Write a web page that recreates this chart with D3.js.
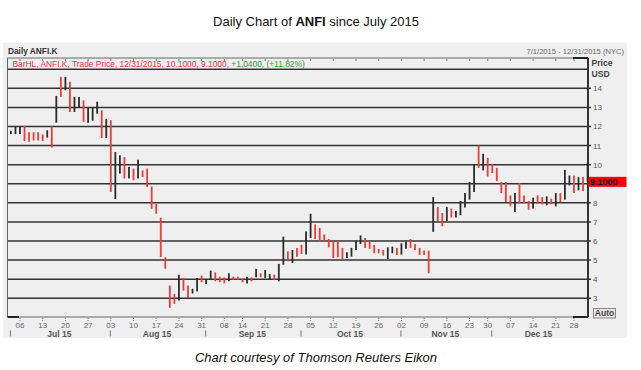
<!DOCTYPE html>
<html>
<head>
<meta charset="utf-8">
<script src="https://cdn.jsdelivr.net/npm/d3@7"></script>
<style>
body { margin: 0; background: #fff; }
svg { display: block; font-family: "Liberation Sans", Arial, sans-serif; }
</style>
</head>
<body>
<div id="chart"></div>
<script>
// Daily high / low bars for ANFI.K, one per trading day, Jul 1 - Dec 31 2015
const highs = [
  11.77, 12.0, 12.0, 12.03, 11.7, 11.7, 11.7, 11.58, 11.8, 12.0,
  13.6, 14.6, 14.6, 14.34, 13.55, 13.55, 13.37, 12.99, 13.0, 13.3,
  12.85, 12.4, 12.33, 10.66, 10.49, 10.4, 9.88, 9.8, 10.26, 9.7,
  9.8, 8.86, 7.95, 7.22, 5.16, 3.67, 3.23, 4.23, 4.07, 3.67,
  3.5, 4.06, 4.19, 4.01, 4.45, 4.36, 4.13, 4.1, 4.31, 4.13,
  4.13, 4.01, 4.13, 4.1, 4.54, 4.31, 4.48, 4.27, 4.24, 4.8,
  6.23, 5.46, 5.53, 5.64, 5.81, 6.5, 7.43, 6.87, 6.69, 6.34,
  6.11, 5.99, 5.99, 5.64, 5.41, 5.64, 6.02, 6.29, 6.16, 5.97,
  5.8, 5.59, 5.53, 5.67, 5.71, 5.64, 5.88, 5.97, 6.11, 5.85,
  5.64, 5.5, 5.5, 8.3, 7.78, 7.47, 7.78, 7.7, 7.57, 8.1,
  8.51, 9.09, 10.04, 11.0, 10.57, 10.36, 10.04, 9.83, 9.09, 9.09,
  8.39, 8.51, 9.03, 8.39, 8.1, 8.27, 8.39, 8.3, 8.34, 8.22,
  8.51, 8.51, 9.73, 9.43, 9.43, 9.35, 9.35, 10.1
];
const lows = [
  11.6, 11.6, 11.6, 11.24, 11.2, 11.27, 11.27, 11.24, 11.42, 10.9,
  12.2, 13.55, 13.9, 12.76, 12.76, 13.0, 12.24, 12.19, 12.3, 12.67,
  11.4, 11.4, 8.57, 8.2, 9.53, 9.27, 9.27, 9.18, 9.27, 9.35,
  8.83, 7.69, 7.43, 5.16, 4.55, 2.5, 2.71, 2.88, 3.4, 3.02,
  3.25, 3.36, 3.84, 3.75, 4.0, 3.89, 3.84, 3.78, 3.89, 3.96,
  3.96, 3.84, 3.78, 3.89, 4.1, 4.1, 4.06, 4.01, 3.96, 3.89,
  4.76, 4.94, 4.85, 5.18, 5.32, 5.29, 6.16, 6.11, 5.97, 5.99,
  5.67, 5.11, 5.15, 5.03, 5.11, 5.18, 5.53, 5.85, 5.64, 5.59,
  5.36, 5.36, 5.24, 5.06, 5.36, 5.27, 5.29, 5.59, 5.64, 5.53,
  5.27, 5.27, 4.31, 6.48, 7.05, 6.77, 7.05, 7.23, 7.23, 7.35,
  7.75, 8.17, 8.57, 9.83, 9.7, 9.38, 9.56, 9.14, 8.51, 8.04,
  7.82, 7.52, 7.99, 7.99, 7.64, 7.7, 7.96, 7.92, 7.87, 7.92,
  7.82, 8.04, 8.17, 8.91, 8.51, 8.65, 8.62, 9.1
];
// u = up day (dark bar), d = down day (red bar)
const dirs = [
  "uuudddddud", "ududuuduuu", "duduududud", "dddddddudd",
  "uuduudddud", "ddududuudu", "ududduuddd", "dddduuuudd",
  "ddduuduudd", "dddudduduu", "uuududdddd", "duddduddud",
  "uduududu"
].join("").split("");

const holidays = ["2015-07-03", "2015-09-07", "2015-11-26", "2015-12-25"];
// the 9 label sits behind the last-price box
const priceTicks = [3, 4, 5, 6, 7, 8, 10, 11, 12, 13, 14];
const gridPrices = [3, 4, 5, 6, 7, 8, 9, 10, 11, 12, 13, 14, 15];
const monthLabels = ["Jul 15", "Aug 15", "Sep 15", "Oct 15", "Nov 15", "Dec 15"];
const lastPrice = 9.1;

const width = 641, height = 370;
const plotLeft = 7.5, plotRight = 588, plotTop = 58, plotBottom = 317;

const fmt = d3.timeFormat("%Y-%m-%d");
const days = d3.timeDays(new Date(2015, 6, 1), new Date(2016, 0, 1))
  .filter(d => d.getDay() !== 0 && d.getDay() !== 6 && !holidays.includes(fmt(d)));

const bars = days.map((d, i) => ({ date: d, hi: highs[i], lo: lows[i], up: dirs[i] === "u" }));

const x = d3.scalePoint().domain(d3.range(days.length)).range([10.9, 587.6]);
const y = d3.scaleLinear().domain([3, 14]).range([298.3, 88.3]);

const svg = d3.select("#chart").append("svg")
  .attr("width", width).attr("height", height);

// title
const title = svg.append("text")
  .attr("x", 316).attr("y", 26)
  .attr("text-anchor", "middle")
  .attr("font-size", 13).attr("fill", "#111");
title.append("tspan").text("Daily Chart of ");
title.append("tspan").attr("font-weight", "bold").text("ANFI");
title.append("tspan").text(" since July 2015");

// panel
svg.append("rect")
  .attr("x", 3).attr("y", 42.5).attr("width", 624).attr("height", 295.5)
  .attr("fill", "#efefef");

svg.append("text")
  .attr("x", 8).attr("y", 54)
  .attr("font-size", 8.3).attr("font-weight", "bold").attr("fill", "#333")
  .text("Daily ANFI.K");

svg.append("text")
  .attr("x", 624).attr("y", 53.5)
  .attr("text-anchor", "end")
  .attr("font-size", 7.6).attr("fill", "#666")
  .text("7/1/2015 - 12/31/2015 (NYC)");

// grid lines
svg.selectAll(".grid")
  .data(gridPrices)
  .enter()
  .append("line")
    .attr("class", "grid")
    .attr("x1", plotLeft)
    .attr("x2", d => d === 15 ? plotRight : plotRight + 3)
    .attr("y1", d => y(d))
    .attr("y2", d => y(d))
    .attr("stroke", "#333")
    .attr("stroke-width", 1.5);

// frame
function frameLine(x1, x2, y1, y2, color, w) {
  svg.append("line")
    .attr("x1", x1).attr("x2", x2).attr("y1", y1).attr("y2", y2)
    .attr("stroke", color).attr("stroke-width", w);
}
frameLine(plotLeft, plotLeft, plotTop, plotBottom, "#666", 1);
frameLine(plotLeft, plotRight, plotTop, plotTop, "#666", 1);
frameLine(plotLeft, plotRight, plotBottom, plotBottom, "#666", 1);
frameLine(plotRight, plotRight, plotTop, plotBottom, "#333", 2);
frameLine(573, plotRight, plotTop, plotTop, "#222", 2);
frameLine(573, plotRight, plotBottom, plotBottom, "#222", 2);
frameLine(plotLeft, 19, plotBottom, plotBottom, "#222", 2);

// legend line
const legend = svg.append("text")
  .attr("x", 12.5).attr("y", 66.5)
  .attr("font-size", 8.4);
legend.append("tspan").attr("fill", "#e8343c")
  .text("BarHL, ANFI.K, Trade Price, 12/31/2015, 10.1000, 9.1000, ");
legend.append("tspan").attr("fill", "#2f9a35")
  .text("+1.0400, (+11.82%)");

// price axis
svg.append("text").attr("x", 591.5).attr("y", 65.5)
  .attr("font-size", 8.6).attr("font-weight", "bold").attr("fill", "#444").text("Price");
svg.append("text").attr("x", 591.5).attr("y", 76.5)
  .attr("font-size", 8.6).attr("font-weight", "bold").attr("fill", "#444").text("USD");

svg.selectAll(".ptick")
  .data(priceTicks)
  .enter()
  .append("text")
    .attr("class", "ptick")
    .attr("x", 593)
    .attr("y", d => y(d) + 3)
    .attr("font-size", 8)
    .attr("fill", "#555")
    .text(d => d);

// bars
svg.selectAll(".bar")
  .data(bars)
  .enter()
  .append("line")
    .attr("class", "bar")
    .attr("x1", (d, i) => x(i))
    .attr("x2", (d, i) => x(i))
    .attr("y1", d => y(d.hi))
    .attr("y2", d => y(d.lo))
    .attr("stroke", d => d.up ? "#2b2b2b" : "#f03a3a")
    .attr("stroke-width", 1.8);

// last price marker
svg.append("rect")
  .attr("x", 588.5).attr("y", y(lastPrice) - 5).attr("width", 38).attr("height", 10)
  .attr("fill", "#ff0000");
svg.append("text")
  .attr("x", 590).attr("y", y(lastPrice) + 3.4)
  .attr("font-size", 9).attr("font-weight", "bold").attr("fill", "#111")
  .text(lastPrice.toFixed(4));

// time axis: first trading day of each week
const weekIdx = d3.range(1, days.length)
  .filter(i => +d3.timeMonday.floor(days[i]) !== +d3.timeMonday.floor(days[i - 1]));
const monthIdx = d3.range(days.length)
  .filter(i => i === 0 || days[i].getMonth() !== days[i - 1].getMonth());

svg.selectAll(".wtick")
  .data(weekIdx)
  .enter()
  .append("line")
    .attr("class", "wtick")
    .attr("x1", i => x(i)).attr("x2", i => x(i))
    .attr("y1", plotBottom + 1).attr("y2", plotBottom + 4)
    .attr("stroke", "#777").attr("stroke-dasharray", "1,1");

svg.selectAll(".ttick")
  .data(weekIdx)
  .enter()
  .append("line")
    .attr("class", "ttick")
    .attr("x1", i => x(i)).attr("x2", i => x(i))
    .attr("y1", plotTop + 1).attr("y2", plotTop + 3)
    .attr("stroke", "#777");

svg.selectAll(".wlabel")
  .data(weekIdx)
  .enter()
  .append("text")
    .attr("class", "wlabel")
    .attr("x", i => x(i))
    .attr("y", 328)
    .attr("text-anchor", "middle")
    .attr("font-size", 8)
    .attr("fill", "#666")
    .text(i => d3.timeFormat("%d")(days[i]));

svg.selectAll(".msep")
  .data(monthIdx)
  .enter()
  .append("line")
    .attr("class", "msep")
    .attr("x1", i => x(i) - 0.5).attr("x2", i => x(i) - 0.5)
    .attr("y1", 330.5).attr("y2", 336.5)
    .attr("stroke", "#777");

svg.selectAll(".mlabel")
  .data(monthIdx)
  .enter()
  .append("text")
    .attr("class", "mlabel")
    .attr("x", (i, k) => {
      let end = k + 1 < monthIdx.length ? monthIdx[k + 1] : days.length - 1;
      return (x(i) + x(end)) / 2 - 1.5;
    })
    .attr("y", 337)
    .attr("text-anchor", "middle")
    .attr("font-size", 8.5)
    .attr("font-weight", "bold")
    .attr("fill", "#555")
    .text((i, k) => monthLabels[k]);

// auto button
svg.append("rect")
  .attr("x", 593.5).attr("y", 308.5).attr("width", 22).attr("height", 9.5)
  .attr("fill", "#e6e6e6").attr("stroke", "#888");
svg.append("text")
  .attr("x", 604.5).attr("y", 316.3)
  .attr("text-anchor", "middle")
  .attr("font-size", 8.6).attr("font-weight", "bold").attr("fill", "#444")
  .text("Auto");

// caption
svg.append("text")
  .attr("x", 316).attr("y", 362)
  .attr("text-anchor", "middle")
  .attr("font-size", 13).attr("font-style", "italic").attr("fill", "#111")
  .text("Chart courtesy of Thomson Reuters Eikon");
</script>
</body>
</html>
